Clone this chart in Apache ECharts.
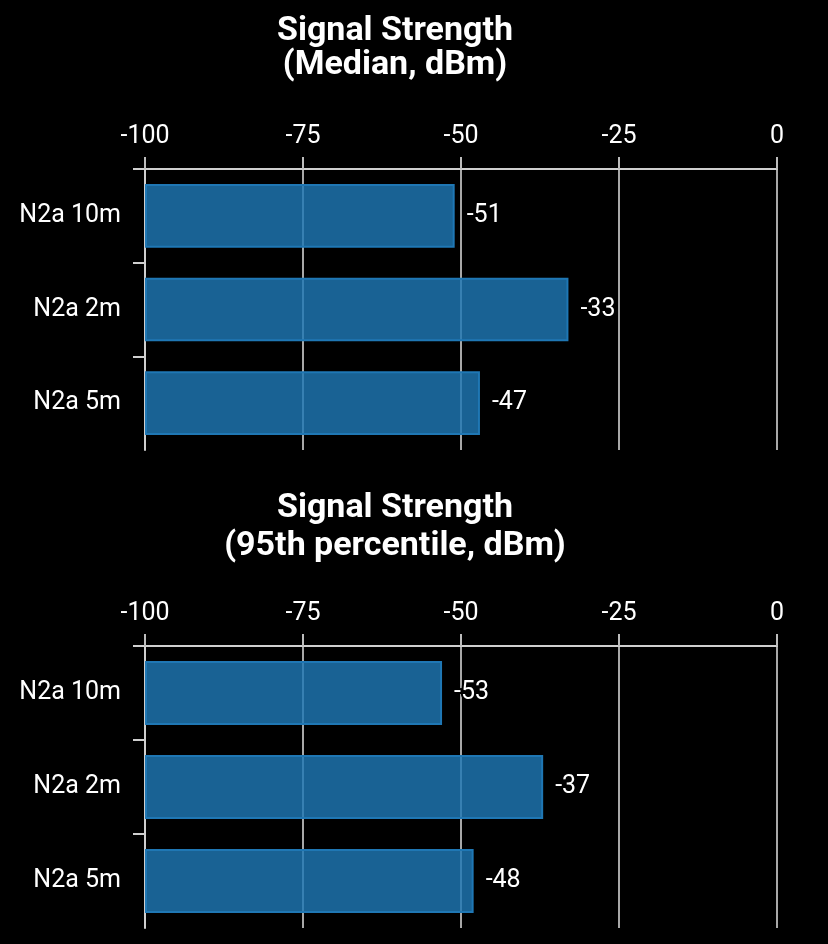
<!DOCTYPE html>
<html>
<head>
<meta charset="utf-8">
<script src="https://cdn.jsdelivr.net/npm/echarts@6/dist/echarts.min.js"></script>
<style>
html,body{margin:0;padding:0;background:#000;}
#main{width:828px;height:944px;}
</style>
</head>
<body>
<div id="main"></div>
<script>
var categories = ['N2a 10m', 'N2a 2m', 'N2a 5m'];
var medianValues = [-51, -33, -47];
var p95Values = [-53, -37, -48];
var xTicks = [-100, -75, -50, -25, 0];
var titles = ['Signal Strength\n(Median, dBm)', 'Signal Strength\n(95th percentile, dBm)'];

var FONT = 'Roboto';
var chart = echarts.init(document.getElementById('main'), null, {renderer: 'canvas'});

// bottom-to-top order for the category axis (first category drawn at top)
var catsBottomUp = categories.slice().reverse();

function xAxisDef(gi) {
  return {
    gridIndex: gi, type: 'value', position: 'top',
    min: xTicks[0], max: xTicks[xTicks.length - 1], interval: 25,
    startValue: xTicks[0],
    axisLine: {show: true, onZero: false, lineStyle: {color: '#cfcfcf', width: 2}},
    axisTick: {show: true, inside: false, length: 12, lineStyle: {color: '#bdbdbd', width: 2}},
    axisLabel: {color: '#fff', fontFamily: FONT, fontSize: 25, margin: 20},
    splitLine: {show: true, lineStyle: {color: '#a8a8a8', width: 2}}
  };
}
function yAxisDef(gi) {
  return {
    gridIndex: gi, type: 'category', data: catsBottomUp, position: 'left',
    axisLine: {show: true, onZero: false, lineStyle: {color: '#cfcfcf', width: 2}},
    axisTick: {show: true, length: 12,
               interval: function (i) { return i > 0; },
               lineStyle: {color: '#cfcfcf', width: 2}},
    axisLabel: {color: '#fff', fontFamily: FONT, fontSize: 25, margin: 24, interval: 0},
    splitLine: {show: false}
  };
}
function barSeries(gi, vals) {
  return {
    type: 'bar', xAxisIndex: gi, yAxisIndex: gi, data: vals.slice().reverse(),
    barCategoryGap: '32%',
    itemStyle: {color: 'rgba(31,119,180,0.82)', borderColor: '#1f77b4', borderWidth: 2},
    label: {show: true, position: 'right', distance: 12, color: '#fff', fontFamily: FONT, fontSize: 25,
            textBorderColor: '#000', textBorderWidth: 4},
    emphasis: {disabled: true}
  };
}

chart.setOption({
  backgroundColor: '#000',
  animation: false,
  title: [
    {text: titles[0], left: 390, top: 9, textAlign: 'center',
     textStyle: {color: '#fff', fontFamily: FONT, fontWeight: 'bold', fontSize: 34, lineHeight: 34}},
    {text: titles[1], left: 390, top: 484, textAlign: 'center',
     textStyle: {color: '#fff', fontFamily: FONT, fontWeight: 'bold', fontSize: 34, lineHeight: 38}}
  ],
  grid: [
    {left: 145, right: 51, top: 169, height: 281},
    {left: 145, right: 51, top: 646, height: 282}
  ],
  xAxis: [xAxisDef(0), xAxisDef(1)],
  yAxis: [yAxisDef(0), yAxisDef(1)],
  series: [barSeries(0, medianValues), barSeries(1, p95Values)]
});
</script>
</body>
</html>
